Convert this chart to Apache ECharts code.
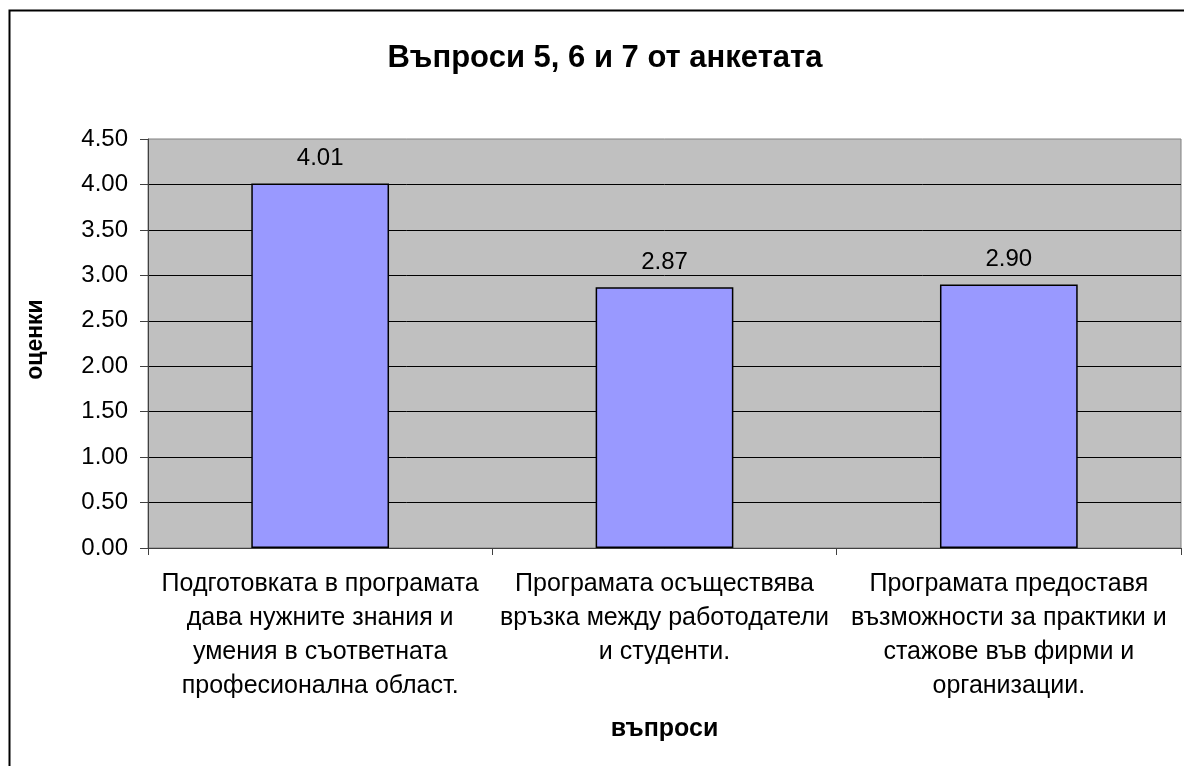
<!DOCTYPE html>
<html>
<head>
<meta charset="utf-8">
<script src="https://cdn.jsdelivr.net/npm/echarts@6/dist/echarts.min.js"></script>
<style>
html,body{margin:0;padding:0;background:#fff;}
#c{width:1184px;height:766px;}
</style>
</head>
<body>
<div id="c"></div>
<script>
var categories = [
  "Подготовката в програмата\nдава нужните знания и\nумения в съответната\nпрофесионална област.",
  "Програмата осъществява\nвръзка между работодатели\nи студенти.",
  "Програмата предоставя\nвъзможности за практики и\nстажове във фирми и\nорганизации."
];
var values = [4.01, 2.87, 2.90];
var titleText = "Въпроси 5, 6 и 7 от анкетата";
var yName = "оценки";
var xName = "въпроси";

var chart = echarts.init(document.getElementById('c'), null, {renderer: 'canvas'});
var font = '"Liberation Sans", Arial, sans-serif';
chart.setOption({
  animation: false,
  backgroundColor: '#ffffff',
  title: {
    text: titleText, left: 600, top: 38, textAlign: 'center',
    textStyle: {fontFamily: font, fontSize: 31, fontWeight: 'bold', color: '#000'}
  },
  graphic: [{
    type: 'rect', shape: {x: 9.5, y: 10.5, width: 1200, height: 800},
    style: {fill: 'none', stroke: '#000', lineWidth: 2}, silent: true, z: -1
  }],
  grid: {
    left: 148, right: 3, top: 139, bottom: 218,
    show: true, backgroundColor: '#c0c0c0', borderColor: '#808080', borderWidth: 1
  },
  xAxis: {
    type: 'category', data: categories,
    name: xName, nameLocation: 'middle', nameGap: 169,
    nameTextStyle: {fontFamily: font, fontSize: 25, fontWeight: 'bold', color: '#000'},
    axisLine: {lineStyle: {color: '#404040', width: 1}},
    axisTick: {show: true, length: 7, lineStyle: {color: '#404040'}, alignWithLabel: false},
    axisLabel: {fontFamily: font, fontSize: 25, color: '#000', lineHeight: 34, margin: 19, interval: 0}
  },
  yAxis: {
    type: 'value', min: 0, max: 4.5, interval: 0.5,
    name: yName, nameLocation: 'middle', nameGap: 101, nameRotate: 90,
    nameTextStyle: {fontFamily: font, fontSize: 23, fontWeight: 'bold', color: '#000', padding: [0, 0, 0, 8]},
    axisLine: {show: true, lineStyle: {color: '#404040', width: 1}},
    axisTick: {show: true, length: 8, lineStyle: {color: '#404040'}},
    axisLabel: {fontFamily: font, fontSize: 24, color: '#000', margin: 20,
      formatter: function (v) { return v.toFixed(2); }},
    splitLine: {show: true, showMaxLine: false, lineStyle: {color: '#000', width: 1}}
  },
  series: [{
    type: 'bar', data: values, barWidth: '40%',
    itemStyle: {color: '#9999ff', borderColor: '#000', borderWidth: 1.5},
    label: {show: true, position: 'top', distance: 13, fontFamily: font, fontSize: 24, color: '#000',
      formatter: function (p) { return p.value.toFixed(2); }}
  }]
});
</script>
</body>
</html>
